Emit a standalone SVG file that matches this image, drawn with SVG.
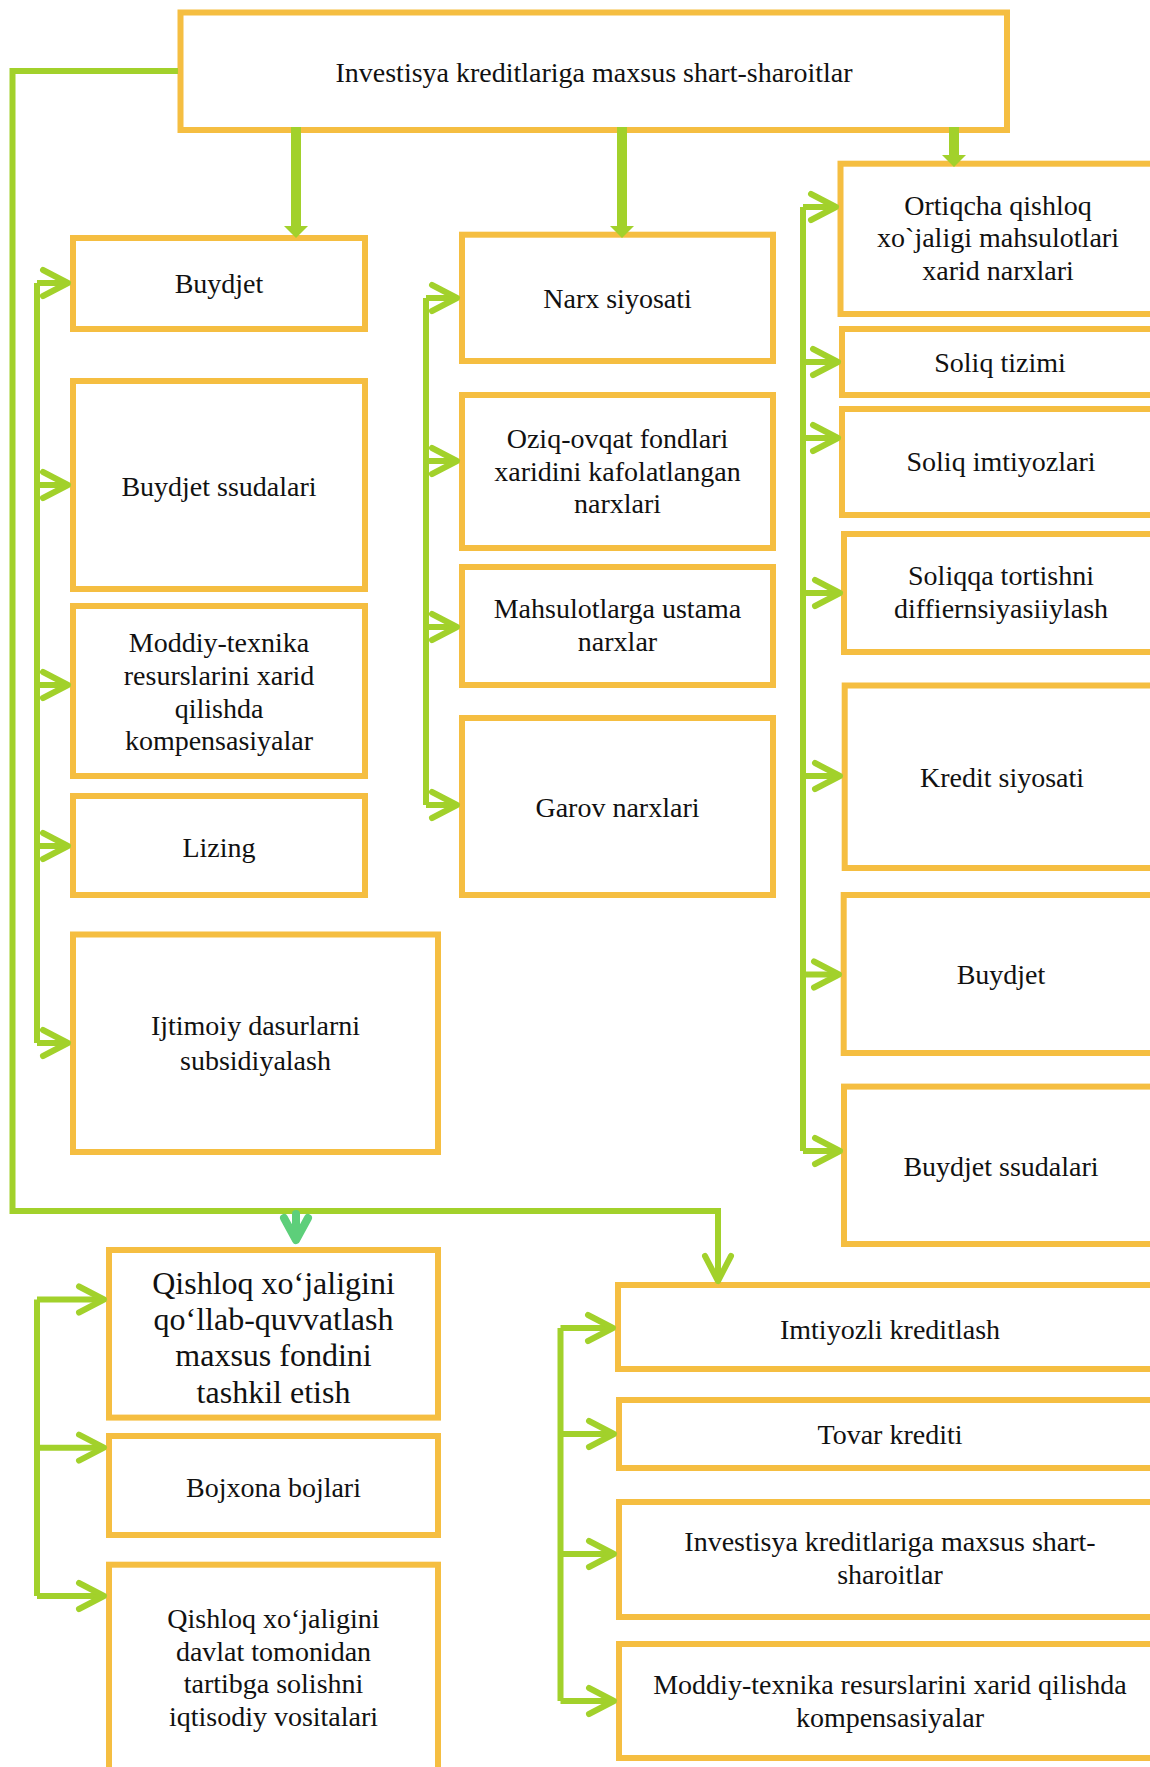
<svg xmlns="http://www.w3.org/2000/svg" width="1150" height="1767" viewBox="0 0 1150 1767">
<style>
.box{fill:#fff;stroke:#F5BE41;stroke-width:6}
.t{font-family:"Liberation Serif","Times New Roman",serif;font-size:28px;fill:#111;text-anchor:middle}
.t32{font-size:32px}
.ln{fill:none;stroke:#A2D12B;stroke-width:6;stroke-linejoin:miter}
.br{fill:none;stroke:#A2D12B;stroke-width:6;marker-end:url(#chev)}
.thick{fill:none;stroke:#A2D12B;stroke-width:10;marker-end:url(#tri)}
</style>
<defs>
<marker id="chev" markerUnits="userSpaceOnUse" viewBox="-32 -20 40 40" markerWidth="40" markerHeight="40" refX="0" refY="0" orient="auto" overflow="visible">
<path d="M-25,-13 L0,0 L-25,13" fill="none" stroke="#A2D12B" stroke-width="6" stroke-linecap="round" stroke-linejoin="round"/>
</marker>
<marker id="tri" markerUnits="userSpaceOnUse" viewBox="-2 -14 16 28" markerWidth="16" markerHeight="28" refX="0" refY="0" orient="auto" overflow="visible">
<path d="M0,-12 L12,0 L0,12 Z" fill="#A2D12B"/>
</marker>
</defs>

<g id="n-top"><rect class="box" x="180.5" y="12.5" width="826.5" height="117.5"/><text class="t" x="594" y="82">Investisya kreditlariga maxsus shart-sharoitlar</text></g>

<g id="n-buydjet"><rect class="box" x="73" y="238" width="292" height="91"/><text class="t" x="219" y="293">Buydjet</text></g>
<g id="n-buydjet-ssudalari"><rect class="box" x="73" y="381" width="292" height="208"/><text class="t" x="219" y="496">Buydjet ssudalari</text></g>
<g id="n-moddiy"><rect class="box" x="73" y="606" width="292" height="170"/><text class="t" x="219" y="652">Moddiy-texnika<tspan x="219" dy="32.8">resurslarini xarid</tspan><tspan x="219" dy="32.8">qilishda</tspan><tspan x="219" dy="32.8">kompensasiyalar</tspan></text></g>
<g id="n-lizing"><rect class="box" x="73" y="796" width="292" height="99"/><text class="t" x="219" y="857">Lizing</text></g>
<g id="n-ijtimoiy"><rect class="box" x="73" y="934.5" width="365" height="217.5"/><text class="t" x="255.5" y="1035">Ijtimoiy dasurlarni<tspan x="255.5" dy="35">subsidiyalash</tspan></text></g>

<g id="n-narx"><rect class="box" x="462" y="234.7" width="311" height="126.3"/><text class="t" x="617.5" y="308">Narx siyosati</text></g>
<g id="n-oziq"><rect class="box" x="462" y="395" width="311" height="153"/><text class="t" x="617.5" y="448">Oziq-ovqat fondlari<tspan x="617.5" dy="32.5">xaridini kafolatlangan</tspan><tspan x="617.5" dy="32.5">narxlari</tspan></text></g>
<g id="n-ustama"><rect class="box" x="462" y="567" width="311" height="118"/><text class="t" x="617.5" y="618">Mahsulotlarga ustama<tspan x="617.5" dy="33">narxlar</tspan></text></g>
<g id="n-garov"><rect class="box" x="462" y="718" width="311" height="177"/><text class="t" x="617.5" y="817">Garov narxlari</text></g>

<g id="n-ortiqcha"><rect class="box" x="840.5" y="163.7" width="318.5" height="150.3"/><text class="t" x="998" y="214.5">Ortiqcha qishloq<tspan x="998" dy="32.5">xo`jaligi mahsulotlari</tspan><tspan x="998" dy="32.5">xarid narxlari</tspan></text></g>
<g id="n-soliq-tizimi"><rect class="box" x="842" y="329" width="317" height="66"/><text class="t" x="1000" y="371.5">Soliq tizimi</text></g>
<g id="n-soliq-imtiyoz"><rect class="box" x="842" y="409" width="317" height="106"/><text class="t" x="1001" y="471">Soliq imtiyozlari</text></g>
<g id="n-soliqqa"><rect class="box" x="844" y="534" width="315" height="118"/><text class="t" x="1001" y="585">Soliqqa tortishni<tspan x="1001" dy="32.7">diffiernsiyasiiylash</tspan></text></g>
<g id="n-kredit"><rect class="box" x="844.7" y="685.5" width="314.3" height="182.5"/><text class="t" x="1002" y="787">Kredit siyosati</text></g>
<g id="n-buydjet-r"><rect class="box" x="843.7" y="895" width="315.3" height="158"/><text class="t" x="1001" y="983.5">Buydjet</text></g>
<g id="n-buydjet-ssudalari-r"><rect class="box" x="844" y="1086.6" width="315" height="157.4"/><text class="t" x="1001" y="1176">Buydjet ssudalari</text></g>

<g id="n-fond"><rect class="box" x="109" y="1250" width="329" height="167.6"/><text class="t t32" x="273.5" y="1293.5">Qishloq xo‘jaligini<tspan x="273.5" dy="36.4">qo‘llab-quvvatlash</tspan><tspan x="273.5" dy="36.4">maxsus fondini</tspan><tspan x="273.5" dy="36.4">tashkil etish</tspan></text></g>
<g id="n-bojxona"><rect class="box" x="109" y="1436" width="329" height="99"/><text class="t" x="273.5" y="1496.5">Bojxona bojlari</text></g>
<g id="n-davlat"><rect class="box" x="109" y="1564.7" width="329" height="230"/><text class="t" x="273.5" y="1628">Qishloq xo‘jaligini<tspan x="273.5" dy="32.5">davlat tomonidan</tspan><tspan x="273.5" dy="32.5">tartibga solishni</tspan><tspan x="273.5" dy="32.5">iqtisodiy vositalari</tspan></text></g>

<g id="n-imtiyozli"><rect class="box" x="618" y="1285" width="541" height="84"/><text class="t" x="890" y="1338.5">Imtiyozli kreditlash</text></g>
<g id="n-tovar"><rect class="box" x="619" y="1400" width="540" height="68"/><text class="t" x="890" y="1444">Tovar krediti</text></g>
<g id="n-investisya"><rect class="box" x="619" y="1502" width="540" height="115"/><text class="t" x="890" y="1551">Investisya kreditlariga maxsus shart-<tspan x="890" dy="33">sharoitlar</tspan></text></g>
<g id="n-moddiy-r"><rect class="box" x="619" y="1644" width="540" height="114"/><text class="t" x="890" y="1694">Moddiy-texnika resurslarini xarid qilishda<tspan x="890" dy="32.5">kompensasiyalar</tspan></text></g>

<g id="connectors">
<path class="thick" d="M296,127 V226"/>
<path class="thick" d="M622,127 V226"/>
<path class="thick" d="M954,127 V155"/>
<path class="ln" d="M178,71 H12.5 V1211 H718 V1281" marker-end="url(#chev)"/>
<path d="M296,1214 V1239 M284,1218 L296,1240 L308,1218" fill="none" stroke="#5DCF7A" stroke-width="8" stroke-linecap="round" stroke-linejoin="round"/>

<path class="ln" d="M37,283 V1043"/>
<path class="br" d="M37,283 H68"/>
<path class="br" d="M37,485 H68"/>
<path class="br" d="M37,685 H68"/>
<path class="br" d="M37,846 H68"/>
<path class="br" d="M37,1043 H68"/>

<path class="ln" d="M426,298 V805"/>
<path class="br" d="M426,298 H457"/>
<path class="br" d="M426,461 H457"/>
<path class="br" d="M426,627 H457"/>
<path class="br" d="M426,805 H457"/>

<path class="ln" d="M803,207 V1151"/>
<path class="br" d="M803,207 H836"/>
<path class="br" d="M803,362 H838"/>
<path class="br" d="M803,438 H838"/>
<path class="br" d="M803,593 H840"/>
<path class="br" d="M803,776 H840"/>
<path class="br" d="M803,974.5 H839"/>
<path class="br" d="M803,1151 H840"/>

<path class="ln" d="M37,1299.5 V1596"/>
<path class="br" d="M37,1299.5 H104"/>
<path class="br" d="M37,1447.7 H104"/>
<path class="br" d="M37,1596 H104"/>

<path class="ln" d="M560.5,1328 V1701"/>
<path class="br" d="M560.5,1328 H613"/>
<path class="br" d="M560.5,1434 H614"/>
<path class="br" d="M560.5,1554 H614"/>
<path class="br" d="M560.5,1701 H614"/>
</g>
</svg>
